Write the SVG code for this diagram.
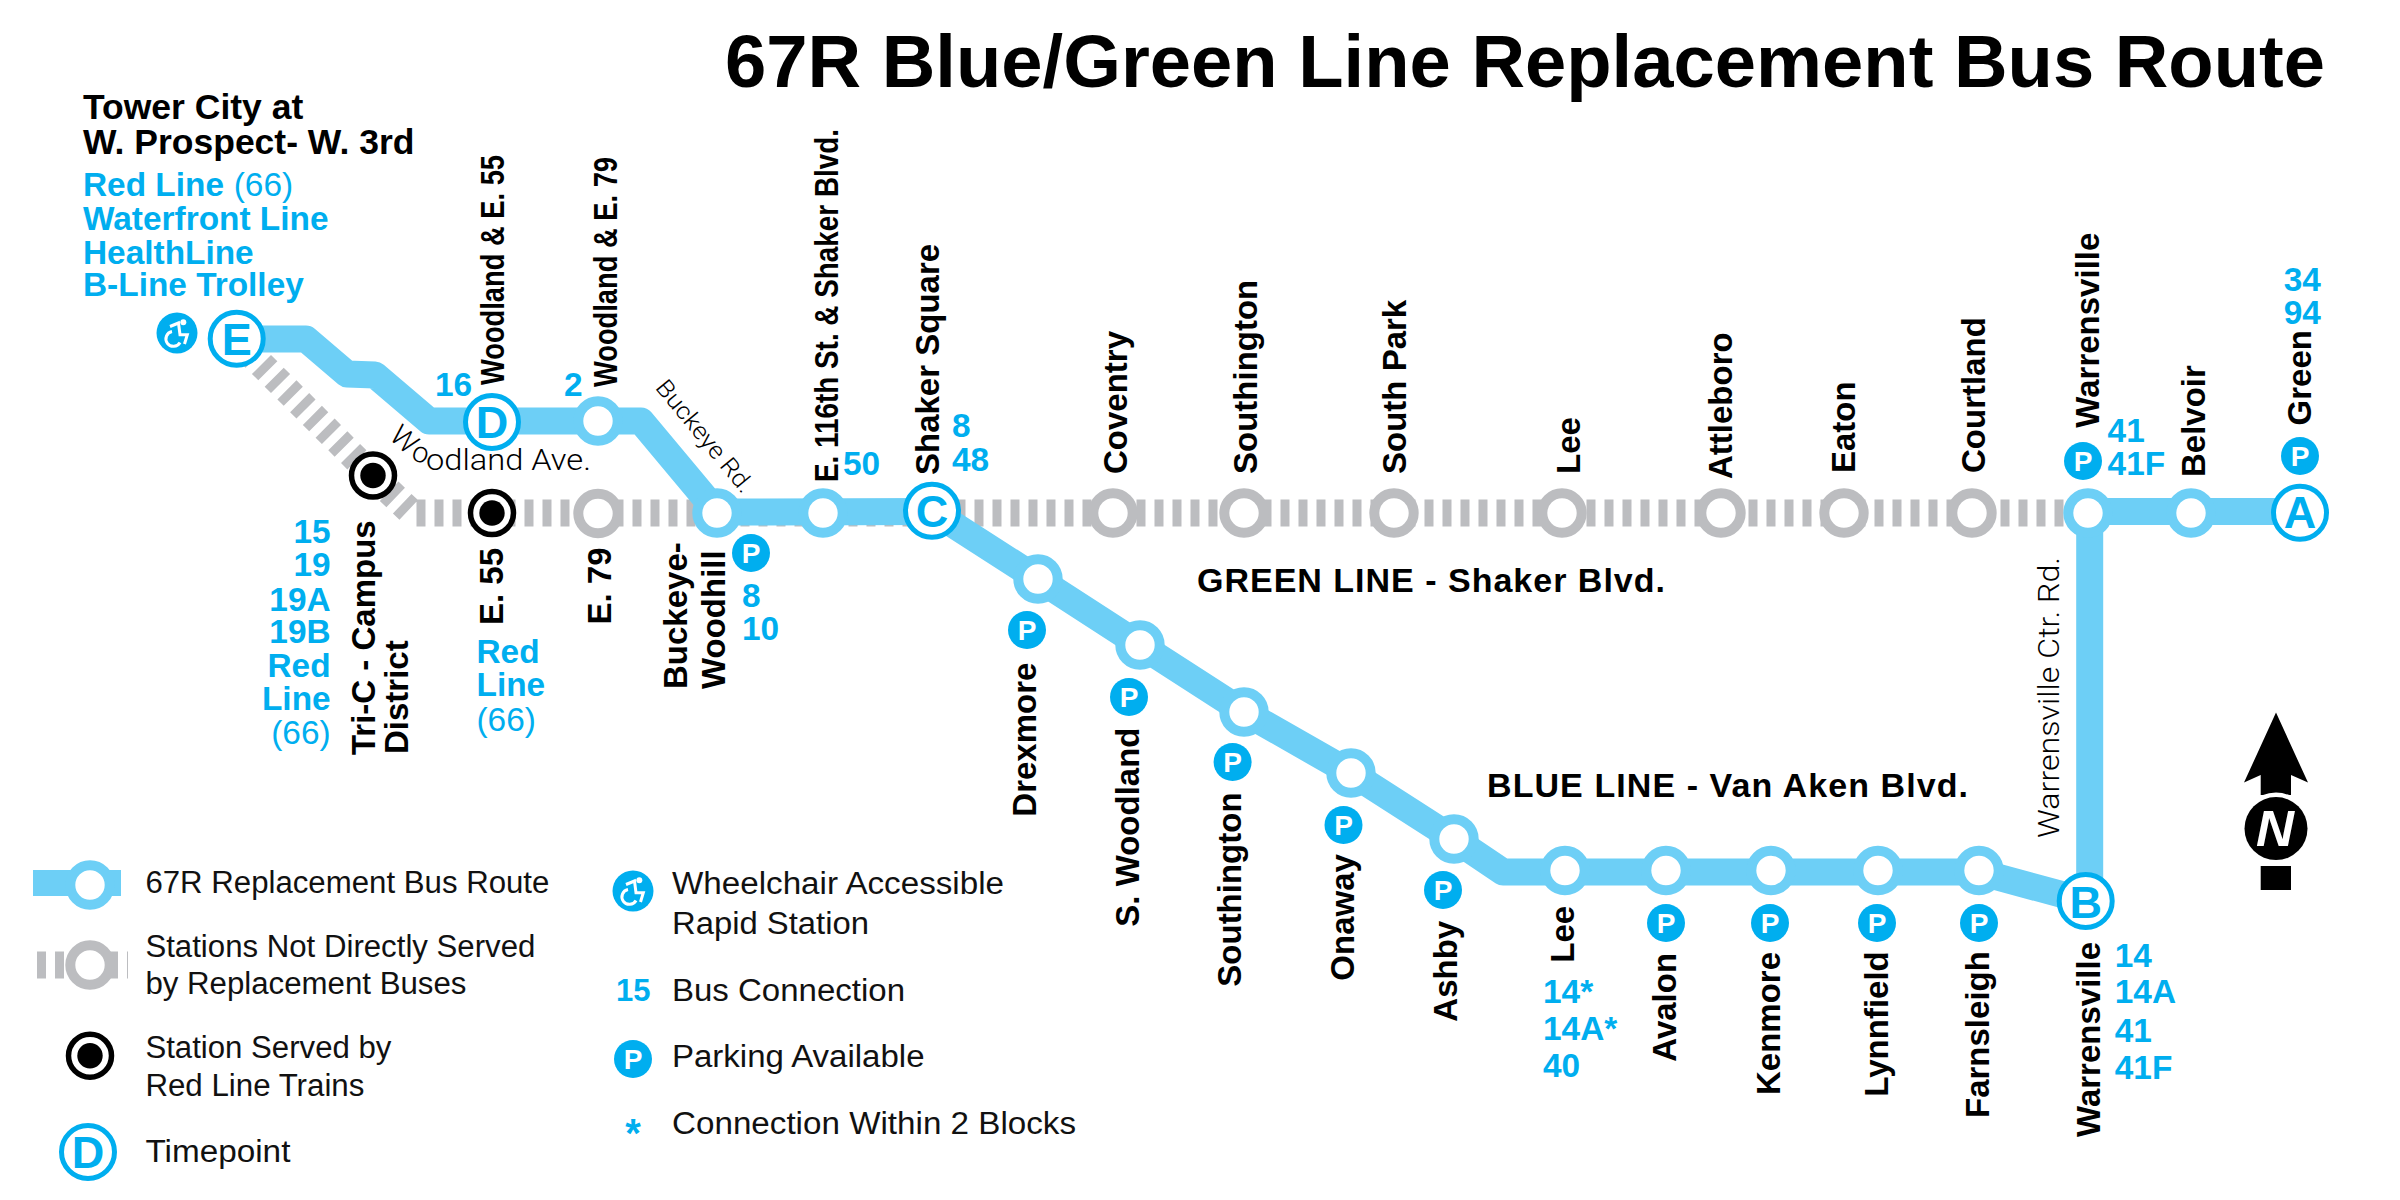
<svg xmlns="http://www.w3.org/2000/svg" width="2400" height="1200" viewBox="0 0 2400 1200">
<style>
text{font-family:"Liberation Sans",Arial,sans-serif}
.k{font-weight:700;font-size:33px;fill:#000}
.b{font-weight:700;font-size:33.400px;fill:#00AEEF}
.r{font-size:33.400px;fill:#00AEEF}
.l{font-size:31px;fill:#111}
.t{font-family:"Roboto","Liberation Sans",sans-serif;font-weight:300;font-size:29px;fill:#000}
.let{font-weight:700;font-size:45px;fill:#00AEEF;text-anchor:middle}
.pt{font-weight:700;font-size:28px;fill:#fff;text-anchor:middle}
.route{fill:none;stroke:#6DCFF6;stroke-width:27;stroke-linejoin:round}
.gray{fill:none;stroke:#BCBDC0;stroke-width:27;stroke-dasharray:9 9}
.st{fill:#fff;stroke:#6DCFF6;stroke-width:10}
.gs{fill:#fff;stroke:#BCBDC0;stroke-width:10}
.tp{fill:#fff;stroke:#00AEEF;stroke-width:5}
.rs{fill:#fff;stroke:#000;stroke-width:5.5}
.pc{fill:#00AEEF}
.wc{fill:none;stroke:#fff;stroke-width:3;stroke-linejoin:miter;stroke-linecap:butt}
</style>
<defs>
<g id="wheel"><circle r="20.5" class="pc"/><circle cx="6.300" cy="-10.700" r="3" fill="#fff"/><path class="wc" d="M-7,-6.500 L1.500,-10 L3,1.700 L10.300,1.700 L7.500,11"/><path class="wc" d="M-5,-1.500 A7.500,7.500 0 1 0 3,9.500"/></g>
<g id="pk"><circle r="19" class="pc"/><text class="pt" y="10">P</text></g>
</defs>

<text id="title" x="725" y="87" font-weight="700" font-size="75" fill="#000" textLength="1600" lengthAdjust="spacingAndGlyphs">67R Blue/Green Line Replacement Bus Route</text>

<g id="connectors">
<path class="gray" d="M236,339 L373,476 L412,513 L2088,513"/>
<path class="route" d="M236,339 L306,339 L347,374 L375,375 L429,421 L641,421 L717,512 L932,511.500"/>
<path class="route" d="M932,511 L1038,579 L1140,645 L1244,712 L1351,773 L1454,839 L1503,872 L1979,872 L2086,901"/>
<path class="route" d="M2089.700,895 L2089.700,511.500 L2300,511.500"/>
</g>

<g id="node-E"><circle cx="236.700" cy="338.700" r="26.500" class="tp"/><text class="let" x="236.700" y="355">E</text><use href="#wheel" x="177" y="333"/>
<text x="83" y="118.500" class="k" style="font-size:35.500px">Tower City at</text>
<text x="83" y="154" class="k" style="font-size:35.500px">W. Prospect- W. 3rd</text>
<text x="83" y="196.400" class="b">Red Line<tspan class="r" x="233.700" style="font-weight:400">(66)</tspan></text>
<text x="83" y="229.600" class="b">Waterfront Line</text>
<text x="83" y="263.700" class="b">HealthLine</text>
<text x="83" y="296.400" class="b">B-Line Trolley</text></g>

<g id="node-D"><circle cx="492" cy="422" r="26.500" class="tp"/><text class="let" x="492" y="438">D</text>
<text class="k" transform="translate(504,385) rotate(-90)" textLength="230" lengthAdjust="spacingAndGlyphs">Woodland &amp; E. 55</text>
<text class="b" x="435" y="395.500">16</text></g>

<g id="node-woodland79"><circle cx="598" cy="421" r="19.700" class="st"/>
<text class="k" transform="translate(617,387) rotate(-90)" textLength="230" lengthAdjust="spacingAndGlyphs">Woodland &amp; E. 79</text>
<text class="b" x="564" y="395.500">2</text></g>

<g id="node-tric"><circle cx="373" cy="475.500" r="21.500" class="rs"/><circle cx="373" cy="475.500" r="12.700"/>
<text class="k" transform="translate(375,755) rotate(-90)">Tri-C - Campus</text>
<text class="k" transform="translate(408,754) rotate(-90)">District</text>
<g text-anchor="end"><text class="b" x="330.600" y="543">15</text><text class="b" x="330.600" y="576">19</text><text class="b" x="330.600" y="610.700">19A</text><text class="b" x="330.600" y="643">19B</text><text class="b" x="330.600" y="676.600">Red</text><text class="b" x="330.600" y="709.800">Line</text><text class="r" x="330.600" y="744.300">(66)</text></g></g>

<g id="node-e55"><circle cx="492" cy="513" r="21.500" class="rs"/><circle cx="492" cy="513" r="12.700"/>
<text class="k" transform="translate(503,625) rotate(-90)">E. 55</text>
<text class="b" x="476.500" y="662.800">Red</text><text class="b" x="476.500" y="696">Line</text><text class="r" x="476.500" y="730.500">(66)</text></g>

<g id="node-e79"><circle cx="598" cy="513.500" r="19.700" class="gs"/>
<text class="k" transform="translate(611,624.500) rotate(-90)">E. 79</text></g>

<g id="node-buckeye"><circle cx="717" cy="513" r="19.700" class="st"/>
<use href="#pk" x="751" y="553"/>
<text class="k" transform="translate(687,689) rotate(-90)">Buckeye-</text>
<text class="k" transform="translate(724.500,689) rotate(-90)">Woodhill</text>
<text class="b" x="742" y="606.500">8</text><text class="b" x="742" y="639.700">10</text></g>

<g id="node-e116"><circle cx="823" cy="513" r="19.700" class="st"/>
<text class="k" transform="translate(838,482) rotate(-90)" textLength="353" lengthAdjust="spacingAndGlyphs">E. 116th St. &amp; Shaker Blvd.</text>
<text class="b" x="843" y="475">50</text></g>

<g id="node-C"><circle cx="932" cy="510.700" r="26.500" class="tp"/><text class="let" x="932" y="527">C</text>
<text class="k" transform="translate(939,475) rotate(-90)">Shaker Square</text>
<text class="b" x="952" y="437">8</text><text class="b" x="952" y="471">48</text></g>

<g id="node-coventry"><circle cx="1113" cy="513" r="19.700" class="gs"/><text class="k" transform="translate(1126.500,474) rotate(-90)">Coventry</text></g>
<g id="node-southington-g"><circle cx="1244" cy="513" r="19.700" class="gs"/><text class="k" transform="translate(1257,474) rotate(-90)">Southington</text></g>
<g id="node-southpark"><circle cx="1394" cy="513" r="19.700" class="gs"/><text class="k" transform="translate(1405.600,474) rotate(-90)">South Park</text></g>
<g id="node-lee-g"><circle cx="1562" cy="513" r="19.700" class="gs"/><text class="k" transform="translate(1579.600,474) rotate(-90)">Lee</text></g>
<g id="node-attleboro"><circle cx="1721" cy="513" r="19.700" class="gs"/><text class="k" transform="translate(1731.600,479) rotate(-90)">Attleboro</text></g>
<g id="node-eaton"><circle cx="1844" cy="513" r="19.700" class="gs"/><text class="k" transform="translate(1855,473) rotate(-90)">Eaton</text></g>
<g id="node-courtland"><circle cx="1972" cy="513" r="19.700" class="gs"/><text class="k" transform="translate(1985,473) rotate(-90)">Courtland</text></g>

<g id="node-warrensville-g"><circle cx="2088" cy="513" r="19.700" class="st"/><use href="#pk" x="2083" y="461"/>
<text class="k" transform="translate(2098.500,427.700) rotate(-90)">Warrensville</text>
<text class="b" x="2107.600" y="441.500">41</text><text class="b" x="2107.600" y="474.500">41F</text></g>
<g id="node-belvoir"><circle cx="2191" cy="513" r="19.700" class="st"/><text class="k" transform="translate(2204.600,477) rotate(-90)">Belvoir</text></g>
<g id="node-A"><circle cx="2300" cy="512.700" r="26.500" class="tp"/><text class="let" x="2300" y="527.700">A</text><use href="#pk" x="2300" y="456"/>
<text class="k" transform="translate(2310.700,425.400) rotate(-90)">Green</text>
<text class="b" x="2283.700" y="290.600">34</text><text class="b" x="2283.700" y="324">94</text></g>

<g id="node-drexmore"><circle cx="1038" cy="579" r="19.700" class="st"/><use href="#pk" x="1027" y="630"/><text class="k" transform="translate(1036,816.700) rotate(-90)">Drexmore</text></g>
<g id="node-swoodland"><circle cx="1140" cy="645" r="19.700" class="st"/><use href="#pk" x="1129" y="697"/><text class="k" transform="translate(1139,926.700) rotate(-90)">S. Woodland</text></g>
<g id="node-southington-b"><circle cx="1244" cy="712" r="19.700" class="st"/><use href="#pk" x="1232.600" y="762"/><text class="k" transform="translate(1241,986.700) rotate(-90)">Southington</text></g>
<g id="node-onaway"><circle cx="1351" cy="773" r="19.700" class="st"/><use href="#pk" x="1343.500" y="825"/><text class="k" transform="translate(1354,980.700) rotate(-90)">Onaway</text></g>
<g id="node-ashby"><circle cx="1454" cy="839" r="19.700" class="st"/><use href="#pk" x="1443" y="890"/><text class="k" transform="translate(1456.800,1021.700) rotate(-90)">Ashby</text></g>
<g id="node-lee-b"><circle cx="1565" cy="870.500" r="19.700" class="st"/><text class="k" transform="translate(1574,962.700) rotate(-90)">Lee</text>
<text class="b" x="1543" y="1002.700">14*</text><text class="b" x="1543" y="1040">14A*</text><text class="b" x="1543" y="1077">40</text></g>
<g id="node-avalon"><circle cx="1666" cy="870.500" r="19.700" class="st"/><use href="#pk" x="1666" y="923"/><text class="k" transform="translate(1676,1061.700) rotate(-90)">Avalon</text></g>
<g id="node-kenmore"><circle cx="1771" cy="870.500" r="19.700" class="st"/><use href="#pk" x="1770" y="923"/><text class="k" transform="translate(1780,1095) rotate(-90)">Kenmore</text></g>
<g id="node-lynnfield"><circle cx="1878" cy="870.500" r="19.700" class="st"/><use href="#pk" x="1877" y="923"/><text class="k" transform="translate(1887.500,1096.700) rotate(-90)">Lynnfield</text></g>
<g id="node-farnsleigh"><circle cx="1979" cy="870.500" r="19.700" class="st"/><use href="#pk" x="1979" y="923"/><text class="k" transform="translate(1988.500,1118) rotate(-90)">Farnsleigh</text></g>
<g id="node-B"><circle cx="2085.700" cy="901" r="26.500" class="tp"/><text class="let" x="2085.700" y="917.700">B</text>
<text class="k" transform="translate(2099.500,1137) rotate(-90)">Warrensville</text>
<text class="b" x="2114.800" y="966.700">14</text><text class="b" x="2114.800" y="1003">14A</text><text class="b" x="2114.800" y="1041.700">41</text><text class="b" x="2114.800" y="1079">41F</text></g>

<g id="labels">
<text class="k" x="1197" y="592" style="font-size:34px" textLength="468">GREEN LINE - Shaker Blvd.</text>
<text class="k" x="1487" y="797" style="font-size:34px" textLength="481">BLUE LINE - Van Aken Blvd.</text>
<text class="t" transform="translate(654.600,388) rotate(50.500)" style="font-size:24px" textLength="138" lengthAdjust="spacingAndGlyphs">Buckeye Rd.</text>
<text class="t" transform="translate(388,438) rotate(42)">W</text>
<text class="t" transform="translate(410,459) rotate(20)">o</text>
<text class="t" x="426" y="470" textLength="165" lengthAdjust="spacingAndGlyphs">odland Ave.</text>
<text class="t" transform="translate(2059,838) rotate(-90)" textLength="281" lengthAdjust="spacingAndGlyphs">Warrensville Ctr. Rd.</text>
</g>

<g id="north">
<path d="M2276,712.500 L2308,782.600 L2291,775 L2291,795 L2260.700,795 L2260.700,775 L2244,782.600 Z"/>
<circle cx="2276" cy="828.600" r="36" fill="#fff"/><circle cx="2276" cy="828.600" r="31.500"/>
<rect x="2260.700" y="866" width="30.300" height="24"/>
<text x="2275" y="846" text-anchor="middle" font-weight="700" font-style="italic" font-size="50" fill="#fff" textLength="38" lengthAdjust="spacingAndGlyphs">N</text>
</g>

<g id="legend">
<g id="lg-route"><rect x="33" y="870" width="88" height="26" fill="#6DCFF6"/><circle cx="90" cy="885" r="19.700" class="st"/><text class="l" x="145.400" y="892.700" textLength="404" lengthAdjust="spacingAndGlyphs">67R Replacement Bus Route</text></g>
<g id="lg-gray"><path d="M37,965 L128,965" class="gray"/><circle cx="90" cy="965" r="19.700" class="gs"/><text class="l" x="145.400" y="956.700" textLength="390" lengthAdjust="spacingAndGlyphs">Stations Not Directly Served</text><text class="l" x="145.400" y="994" textLength="321" lengthAdjust="spacingAndGlyphs">by Replacement Buses</text></g>
<g id="lg-red"><circle cx="90" cy="1055.700" r="21.500" class="rs"/><circle cx="90" cy="1055.700" r="12.700"/><text class="l" x="145.400" y="1057.700" textLength="246" lengthAdjust="spacingAndGlyphs">Station Served by</text><text class="l" x="145.400" y="1095.700" textLength="219" lengthAdjust="spacingAndGlyphs">Red Line Trains</text></g>
<g id="lg-tp"><circle cx="88" cy="1152" r="26.500" class="tp"/><text class="let" x="88" y="1168">D</text><text class="l" x="145.400" y="1161.700" textLength="145" lengthAdjust="spacingAndGlyphs">Timepoint</text></g>
<g id="lg-wheel"><use href="#wheel" x="633" y="891"/><text class="l" x="672" y="894" textLength="332" lengthAdjust="spacingAndGlyphs">Wheelchair Accessible</text><text class="l" x="672" y="934" textLength="197" lengthAdjust="spacingAndGlyphs">Rapid Station</text></g>
<g id="lg-bus"><text class="b" x="616" y="1001" style="font-size:31px">15</text><text class="l" x="672" y="1000.700" textLength="233" lengthAdjust="spacingAndGlyphs">Bus Connection</text></g>
<g id="lg-park"><use href="#pk" x="633" y="1059"/><text class="l" x="672" y="1067" textLength="252.500" lengthAdjust="spacingAndGlyphs">Parking Available</text></g>
<g id="lg-star"><text class="b" x="633" y="1147" text-anchor="middle" style="font-size:40px">*</text><text class="l" x="672" y="1134" textLength="404" lengthAdjust="spacingAndGlyphs">Connection Within 2 Blocks</text></g>
</g>
</svg>
